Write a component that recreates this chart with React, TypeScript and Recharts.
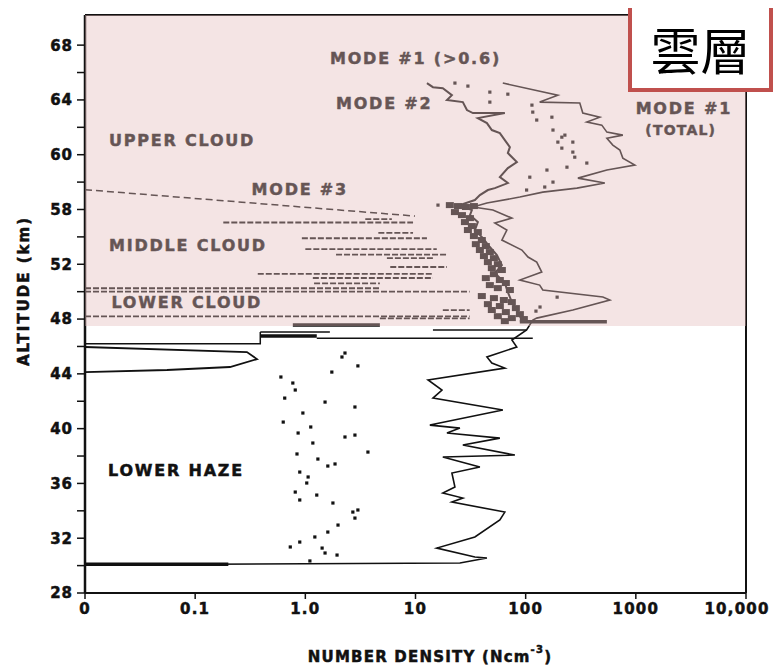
import React from 'react';
import {
  ComposedChart, Line, Scatter, XAxis, YAxis, ReferenceLine, ReferenceArea, ReferenceDot,
} from 'recharts';

const FONT = '"DejaVu Sans", "Liberation Sans", sans-serif';
const INK = '#111111';

// axes
const densityTicks = [0.01, 0.1, 1, 10, 100, 1000, 10000];
const densityTickLabels = ['0', '0.1', '1.0', '10', '100', '1000', '10,000'];
const altitudeTicks = [28, 30, 32, 34, 36, 38, 40, 42, 44, 46, 48, 50, 52, 54, 56, 58, 60, 62, 64, 66, 68];
const altitudeLabelTicks = [28, 32, 36, 40, 44, 48, 52, 56, 60, 64, 68];
const altitudeTickLabels = ['28', '32', '36', '40', '44', '48', '52', '58', '60', '64', '68'];

// mode #1 (total) profile, cloud deck down through the lower haze
const mode1Total = [
  { v: 62, alt: 65.23 }, { v: 196, alt: 64.35 }, { v: 134, alt: 63.84 }, { v: 310, alt: 63.77 },
  { v: 330, alt: 63.04 }, { v: 471, alt: 62.74 }, { v: 359, alt: 62.38 }, { v: 491, alt: 62.16 },
  { v: 546, alt: 61.65 }, { v: 762, alt: 61.43 }, { v: 546, alt: 61.2 }, { v: 618, alt: 60.7 },
  { v: 716, alt: 60.34 }, { v: 762, alt: 59.75 }, { v: 980, alt: 59.24 }, { v: 546, alt: 58.88 },
  { v: 298, alt: 58.29 }, { v: 523, alt: 57.93 }, { v: 292, alt: 57.56 }, { v: 143, alt: 57.27 },
  { v: 88.5, alt: 56.91 }, { v: 44.5, alt: 56.47 }, { v: 33.2, alt: 56.18 }, { v: 50.4, alt: 55.96 },
  { v: 75, alt: 55.37 }, { v: 52.5, alt: 55.01 }, { v: 67.5, alt: 54.5 }, { v: 60.8, alt: 53.77 },
  { v: 92.4, alt: 53.04 }, { v: 105, alt: 52.53 }, { v: 126, alt: 52.16 }, { v: 140, alt: 51.43 },
  { v: 88.5, alt: 50.85 }, { v: 134, alt: 50.48 }, { v: 143, alt: 50.12 }, { v: 502, alt: 49.61 },
  { v: 581, alt: 49.39 }, { v: 268, alt: 48.66 }, { v: 126, alt: 48.07 }, { v: 116, alt: 47.93 },
  { v: 102, alt: 47.2 }, { v: 75, alt: 46.47 }, { v: 83, alt: 45.96 }, { v: 44.5, alt: 45.23 },
  { v: 49.3, alt: 44.79 }, { v: 64.7, alt: 44.42 }, { v: 13, alt: 43.55 }, { v: 17.4, alt: 42.82 },
  { v: 14.4, alt: 42.23 }, { v: 62.1, alt: 41.36 }, { v: 13.5, alt: 40.26 }, { v: 25.3, alt: 40.04 },
  { v: 19.3, alt: 39.68 }, { v: 58.3, alt: 39.31 }, { v: 26.9, alt: 38.8 }, { v: 79.8, alt: 38.07 },
  { v: 17.7, alt: 37.93 }, { v: 38.4, alt: 37.2 }, { v: 21.4, alt: 36.76 }, { v: 22.8, alt: 35.74 },
  { v: 17.7, alt: 35.3 }, { v: 26.9, alt: 34.93 }, { v: 21.4, alt: 34.64 }, { v: 64.7, alt: 33.91 },
  { v: 58.3, alt: 33.33 }, { v: 34.6, alt: 32.09 }, { v: 15.6, alt: 31.28 }, { v: 34.6, alt: 30.63 },
  { v: 44.5, alt: 30.55 }, { v: 25.3, alt: 30.19 }, { v: 0.01, alt: 30.05 },
];

// mode #2 profile
const mode2Line = [
  { v: 12.7, alt: 65.23 }, { v: 14.4, alt: 64.93 }, { v: 17.7, alt: 64.86 }, { v: 21.4, alt: 64.35 },
  { v: 19.3, alt: 63.99 }, { v: 26.9, alt: 63.84 }, { v: 29.3, alt: 63.26 }, { v: 33.2, alt: 63.04 },
  { v: 64.7, alt: 63.04 }, { v: 36.8, alt: 62.67 }, { v: 44.5, alt: 62.31 }, { v: 49.3, alt: 61.8 },
  { v: 58.3, alt: 61.58 }, { v: 64.7, alt: 61.07 }, { v: 71.9, alt: 60.55 }, { v: 68.9, alt: 60.12 },
  { v: 83.2, alt: 59.46 }, { v: 68.9, alt: 59.02 }, { v: 58.3, alt: 58.36 }, { v: 68.9, alt: 57.93 },
  { v: 52.5, alt: 57.56 }, { v: 45.4, alt: 57.42 }, { v: 38.4, alt: 57.05 }, { v: 34.6, alt: 56.69 },
  { v: 25.3, alt: 56.32 }, { v: 32.5, alt: 55.96 }, { v: 31.2, alt: 55.59 }, { v: 36.8, alt: 55.08 },
  { v: 34.6, alt: 54.5 }, { v: 40.9, alt: 53.91 }, { v: 47.3, alt: 53.26 }, { v: 54.8, alt: 52.67 },
  { v: 60.8, alt: 51.94 }, { v: 52.5, alt: 51.36 }, { v: 64.7, alt: 50.63 }, { v: 68.9, alt: 49.97 },
  { v: 75, alt: 49.24 }, { v: 84.9, alt: 48.51 }, { v: 92.4, alt: 47.93 },
];

// mode #1 (>0.6) samples, upper cloud
const mode1FineUpper = [
  { v: 22.8, alt: 65.23 }, { v: 29.9, alt: 65.01 }, { v: 47.3, alt: 64.57 }, { v: 68.9, alt: 64.42 },
  { v: 47.3, alt: 63.84 }, { v: 114, alt: 63.62 }, { v: 116, alt: 63.11 }, { v: 126, alt: 62.53 },
  { v: 173, alt: 62.74 }, { v: 177, alt: 61.8 }, { v: 213, alt: 61.28 }, { v: 268, alt: 60.92 },
  { v: 213, alt: 60.48 }, { v: 279, alt: 59.82 }, { v: 359, alt: 59.39 }, { v: 237, alt: 59.09 },
  { v: 156, alt: 58.88 }, { v: 109, alt: 58.36 }, { v: 177, alt: 58.0 }, { v: 149, alt: 57.64 },
  { v: 102, alt: 57.42 }, { v: 268, alt: 60.19 }, { v: 196, alt: 60.92 }, { v: 227, alt: 61.43 },
  { v: 16, alt: 56.32 }, { v: 193, alt: 49.6 }, { v: 135, alt: 48.88 }, { v: 124, alt: 48.58 },
];

// mode #1 (>0.6) samples, dense band in middle and lower cloud
const mode1FineBand = [
  { v: 20.5, alt: 56.32 }, { v: 24.3, alt: 56.25 }, { v: 28.7, alt: 56.18 }, { v: 33.9, alt: 56.25 },
  { v: 22.8, alt: 55.81 }, { v: 26.4, alt: 55.59 }, { v: 31.2, alt: 55.37 }, { v: 28.1, alt: 55.08 },
  { v: 32.5, alt: 54.79 }, { v: 29.9, alt: 54.5 }, { v: 36.8, alt: 54.35 }, { v: 33.9, alt: 54.06 },
  { v: 40.0, alt: 53.77 }, { v: 35.3, alt: 53.47 }, { v: 43.5, alt: 53.33 }, { v: 38.4, alt: 53.04 },
  { v: 47.3, alt: 52.89 }, { v: 41.8, alt: 52.6 }, { v: 51.5, alt: 52.45 }, { v: 45.4, alt: 52.16 },
  { v: 55.9, alt: 52.01 }, { v: 49.3, alt: 51.72 }, { v: 60.8, alt: 51.58 }, { v: 51.5, alt: 51.28 },
  { v: 43.5, alt: 50.99 }, { v: 58.3, alt: 50.85 }, { v: 66.1, alt: 50.63 }, { v: 47.3, alt: 50.48 },
  { v: 55.9, alt: 50.26 }, { v: 71.9, alt: 50.12 }, { v: 40.0, alt: 49.68 }, { v: 51.5, alt: 49.53 },
  { v: 63.4, alt: 49.39 }, { v: 74.9, alt: 49.24 }, { v: 45.4, alt: 49.09 }, { v: 58.3, alt: 48.95 },
  { v: 81.5, alt: 48.8 }, { v: 49.3, alt: 48.66 }, { v: 66.1, alt: 48.51 }, { v: 88.6, alt: 48.36 },
  { v: 55.9, alt: 48.21 }, { v: 74.9, alt: 48.07 }, { v: 96.3, alt: 48.0 }, { v: 64.7, alt: 47.85 },
];

// mode #2 samples in the lower haze
const hazeDots = [
  { v: 2.15, alt: 45.23 }, { v: 2.29, alt: 45.52 }, { v: 3.0, alt: 44.58 }, { v: 1.74, alt: 44.13 },
  { v: 0.6, alt: 43.77 }, { v: 0.77, alt: 43.33 }, { v: 0.81, alt: 42.82 }, { v: 0.65, alt: 42.23 },
  { v: 1.51, alt: 41.94 }, { v: 2.82, alt: 41.58 }, { v: 0.95, alt: 41.14 }, { v: 0.63, alt: 40.48 },
  { v: 1.12, alt: 40.12 }, { v: 0.86, alt: 39.68 }, { v: 2.82, alt: 39.53 }, { v: 2.29, alt: 39.39 },
  { v: 1.17, alt: 38.95 }, { v: 3.7, alt: 38.29 }, { v: 0.84, alt: 38.15 }, { v: 1.3, alt: 37.78 },
  { v: 1.6, alt: 37.27 }, { v: 1.86, alt: 37.42 }, { v: 0.89, alt: 36.83 }, { v: 1.06, alt: 36.47 },
  { v: 1.03, alt: 36.03 }, { v: 0.81, alt: 35.37 }, { v: 1.27, alt: 35.15 }, { v: 0.89, alt: 34.79 },
  { v: 1.78, alt: 34.57 }, { v: 2.7, alt: 33.91 }, { v: 3.0, alt: 34.06 }, { v: 2.82, alt: 33.47 },
  { v: 1.98, alt: 32.96 }, { v: 1.6, alt: 32.45 }, { v: 1.22, alt: 32.09 }, { v: 0.89, alt: 31.72 },
  { v: 0.73, alt: 31.36 }, { v: 1.42, alt: 31.28 }, { v: 1.51, alt: 30.92 }, { v: 1.94, alt: 30.77 },
  { v: 1.1, alt: 30.34 },
];

// small peak near 45 km
const hazeSpike = [
  { v: 0.01, alt: 45.96 }, { v: 0.295, alt: 45.59 }, { v: 0.364, alt: 45.08 },
  { v: 0.207, alt: 44.5 }, { v: 0.0555, alt: 44.28 }, { v: 0.01, alt: 44.13 },
];
const hazeCap = [
  { v: 0.01, alt: 46.2 }, { v: 0.39, alt: 46.2 }, { v: 0.39, alt: 47.05 },
];

// mode #3
const mode3Slant = [
  { v: 0.01, alt: 57.45 }, { v: 9.9, alt: 55.52 },
];
const mode3Segments = [ // [altitude, from, to]
  [55.3, 3.5, 6.1], [55.05, 0.18, 9.5], [54.3, 4.6, 9.5], [53.9, 0.93, 12.7],
  [53.1, 1.0, 15.6], [52.7, 1.9, 19.7], [52.45, 5.5, 14.4], [51.8, 5.9, 19.3],
  [51.3, 0.37, 14.4], [51.0, 1.17, 14.4], [50.6, 1.2, 4.75], [50.25, 0.01, 4.75],
  [50.0, 0.01, 31], [48.65, 17.7, 31], [48.2, 0.01, 31], [48.05, 4.75, 31],
];

// bars under the cloud base
const thickBars = [ // [altitude, from, to]
  [47.8, 88.5, 546], [47.56, 0.77, 4.75], [46.76, 0.39, 1.27], [30.1, 0.01, 0.2],
];
const thinBars = [
  [47.2, 14.4, 102], [47.05, 0.39, 1.67], [46.6, 1.27, 116],
];

const heavy = { fontFamily: FONT, fontWeight: 700, stroke: 'currentColor', strokeWidth: 0.5 };

const AltTick = (props: any) => {
  const { x, y, payload } = props;
  const i = altitudeLabelTicks.indexOf(payload.value);
  if (i < 0) return <g />;
  return (
    <text x={x} y={y} dy="0.36em" textAnchor="end" fill={INK} color={INK}
      style={{ ...heavy, fontSize: 15, letterSpacing: 1 }}>
      {altitudeTickLabels[i]}
    </text>
  );
};

const DensityTick = (props: any) => {
  const { x, y, payload } = props;
  const i = densityTicks.indexOf(payload.value);
  const shift = i === densityTicks.length - 1 ? -9 : 0;
  return (
    <text x={x + shift} y={y} dy="0.71em" textAnchor="middle" fill={INK} color={INK}
      style={{ ...heavy, fontSize: 15, letterSpacing: 1.2 }}>
      {densityTickLabels[i]}
    </text>
  );
};

const Speck = (props: any) => (
  <rect x={props.cx - 1.6} y={props.cy - 1.6} width={3.2} height={3.2} fill={INK} />
);
const Blob = (props: any) => (
  <rect x={props.cx - 4} y={props.cy - 3} width={8} height={6} fill={INK} />
);

const tag = (text: string, size = 16, spacing = 1.8) => (p: any) => (
  <text x={p.viewBox.x} y={p.viewBox.y} textAnchor="middle" dominantBaseline="central" fill={INK} color={INK}
    style={{ ...heavy, fontSize: size, letterSpacing: spacing }}>
    {text}
  </text>
);

const YTitle = (p: any) => {
  const cx = p.viewBox.x - 1;
  const cy = p.viewBox.y + 276;
  return (
    <text x={cx} y={cy} textAnchor="middle" dominantBaseline="central" fill={INK} color={INK}
      transform={`rotate(-90 ${cx} ${cy})`}
      style={{ ...heavy, fontSize: 15, letterSpacing: 2 }}>
      ALTITUDE (km)
    </text>
  );
};

const XTitle = (p: any) => {
  const cx = p.viewBox.x + 345;
  const by = p.viewBox.y + 69;
  return (
    <text x={cx} y={by} textAnchor="middle" fill={INK} color={INK}
      style={{ ...heavy, fontSize: 15, letterSpacing: 1.2 }}>
      NUMBER DENSITY (Ncm
      <tspan dy={-9} style={{ fontSize: 10 }}>-3</tspan>
      <tspan dy={9}>)</tspan>
    </text>
  );
};

export default function App() {
  return (
    <div style={{ position: 'relative', width: 765, height: 661 }}>
      <style>{'body { margin: 8px 0 0 8px; } #root { width: 765px; }'}</style>
      <ComposedChart width={765} height={661} margin={{ top: 7, right: 27, bottom: 6, left: 17 }}>
        <XAxis
          type="number" dataKey="v" scale="log" domain={[0.01, 10000]} ticks={densityTicks}
          allowDataOverflow interval={0} height={70} tickSize={6} tickMargin={4}
          tick={<DensityTick />} axisLine={{ stroke: INK, strokeWidth: 2 }}
          tickLine={{ stroke: INK, strokeWidth: 1.5 }} label={{ content: XTitle }}
        />
        <YAxis
          type="number" dataKey="alt" domain={[28, 70.2]} ticks={altitudeTicks}
          allowDataOverflow interval={0} width={60} tickSize={8} tickMargin={4}
          tick={<AltTick />} axisLine={{ stroke: INK, strokeWidth: 2.5 }}
          tickLine={{ stroke: INK, strokeWidth: 1.5 }} label={{ content: YTitle }}
        />
        <ReferenceLine y={70.2} stroke={INK} strokeWidth={2} ifOverflow="visible" />
        <ReferenceLine x={10000} stroke={INK} strokeWidth={2} ifOverflow="visible" />

        {mode3Segments.map(([alt, from, to], i) => (
          <ReferenceLine key={`m3-${i}`} segment={[{ x: from, y: alt }, { x: to, y: alt }]}
            stroke={INK} strokeWidth={1.8} strokeDasharray="6 2" ifOverflow="visible" />
        ))}
        {thickBars.map(([alt, from, to], i) => (
          <ReferenceLine key={`tb-${i}`} segment={[{ x: from, y: alt }, { x: to, y: alt }]}
            stroke={INK} strokeWidth={3.5} ifOverflow="visible" />
        ))}
        {thinBars.map(([alt, from, to], i) => (
          <ReferenceLine key={`tn-${i}`} segment={[{ x: from, y: alt }, { x: to, y: alt }]}
            stroke={INK} strokeWidth={1.5} ifOverflow="visible" />
        ))}

        <Line data={mode3Slant} dataKey="alt" type="linear" stroke={INK} strokeWidth={1.5}
          strokeDasharray="7 4" dot={false} isAnimationActive={false} />
        <Line data={mode1Total} dataKey="alt" type="linear" stroke={INK} strokeWidth={1.6}
          dot={false} isAnimationActive={false} />
        <Line data={mode2Line} dataKey="alt" type="linear" stroke={INK} strokeWidth={2}
          dot={false} isAnimationActive={false} />
        <Line data={hazeSpike} dataKey="alt" type="linear" stroke={INK} strokeWidth={1.8}
          dot={false} isAnimationActive={false} />
        <Line data={hazeCap} dataKey="alt" type="linear" stroke={INK} strokeWidth={1.5}
          dot={false} isAnimationActive={false} />
        <Scatter data={mode1FineUpper} shape={Speck} isAnimationActive={false} />
        <Scatter data={mode1FineBand} shape={Blob} isAnimationActive={false} />
        <Scatter data={hazeDots} shape={Speck} isAnimationActive={false} />

        <ReferenceDot x={10} y={67.05} r={0} fill="none" stroke="none" ifOverflow="visible"
          label={{ content: tag('MODE #1 (>0.6)') }} />
        <ReferenceDot x={5.2} y={63.77} r={0} fill="none" stroke="none" ifOverflow="visible"
          label={{ content: tag('MODE #2') }} />
        <ReferenceDot x={2729} y={63.4} r={0} fill="none" stroke="none" ifOverflow="visible"
          label={{ content: tag('MODE #1') }} />
        <ReferenceDot x={2559} y={61.8} r={0} fill="none" stroke="none" ifOverflow="visible"
          label={{ content: tag('(TOTAL)', 14, 1.2) }} />
        <ReferenceDot x={0.076} y={61.07} r={0} fill="none" stroke="none" ifOverflow="visible"
          label={{ content: tag('UPPER CLOUD') }} />
        <ReferenceDot x={0.89} y={57.49} r={0} fill="none" stroke="none" ifOverflow="visible"
          label={{ content: tag('MODE #3') }} />
        <ReferenceDot x={0.086} y={53.36} r={0} fill="none" stroke="none" ifOverflow="visible"
          label={{ content: tag('MIDDLE CLOUD') }} />
        <ReferenceDot x={0.084} y={49.2} r={0} fill="none" stroke="none" ifOverflow="visible"
          label={{ content: tag('LOWER CLOUD') }} />
        <ReferenceDot x={0.067} y={36.94} r={0} fill="none" stroke="none" ifOverflow="visible"
          label={{ content: tag('LOWER HAZE') }} />

        <ReferenceArea x1={0.01} x2={10000} y1={47.5} y2={70.2} fill="rgb(228,188,188)"
          fillOpacity={0.4} stroke="none" ifOverflow="visible" zIndex={5000} />
      </ComposedChart>
      <div
        style={{
          position: 'absolute', left: 620, top: -5, width: 145, height: 89,
          boxSizing: 'border-box', border: '4px solid #c0504d', background: '#fff',
          display: 'flex', alignItems: 'center', justifyContent: 'center',
          fontFamily: '"Noto Sans CJK TC", "Noto Sans CJK SC", sans-serif',
          fontSize: 50, color: '#000', lineHeight: 1,
        }}
      >
        雲層
      </div>
    </div>
  );
}
